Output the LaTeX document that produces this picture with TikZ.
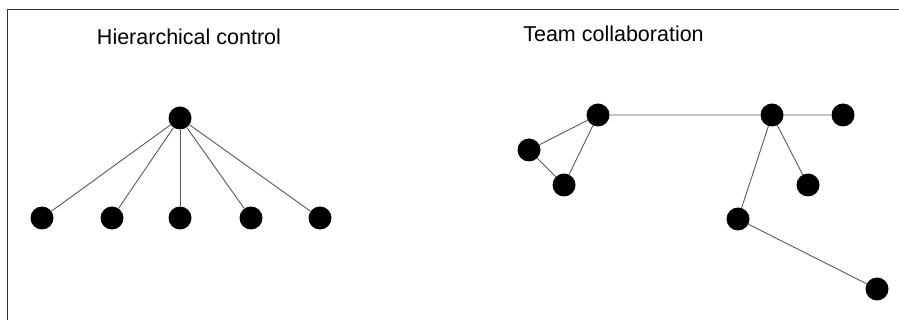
\documentclass[tikz,border=0pt]{standalone}
\usepackage{fontspec}
\setmainfont{Liberation Sans}
\tikzset{
  dot/.style   = {circle,fill=black,inner sep=0pt,minimum size=23pt},
  link/.style  = {black!65,line width=0.9pt},
  frame/.style = {black!80,line width=1pt},
  title/.style = {anchor=base,font=\fontsize{21.5}{26}\selectfont},
}

\begin{document}
\begin{tikzpicture}[x=1pt,y=-1pt]
        \useasboundingbox (0,0) rectangle (899,320);
        \draw[frame] (7,320) -- (7,10) -- (899,10);
        \node[title] (th) at (189,45) {Hierarchical control};
        \node[title] (tt) at (613.5,42) {Team collaboration};
        % hierarchical control
        \node[dot] (boss) at (180,118) {};
        \foreach \n/\x in {1/42,2/112,3/180,4/251,5/320} {
            \node[dot] (w\n) at (\x,218) {};
            \draw[link] (boss) -- (w\n);
        }
        % team collaboration
        \node[dot] (a) at (598,115) {};
        \node[dot] (b) at (529,150) {};
        \node[dot] (c) at (564,185) {};
        \node[dot] (d) at (772,115) {};
        \node[dot] (e) at (843,115) {};
        \node[dot] (f) at (808,185) {};
        \node[dot] (g) at (738,219) {};
        \node[dot] (h) at (877,289) {};
        \draw[link] (a) -- (b) -- (c) -- (a) -- (d) -- (e);
        \draw[link] (d) -- (f);
        \draw[link] (d) -- (g) -- (h);
\end{tikzpicture}
\end{document}
